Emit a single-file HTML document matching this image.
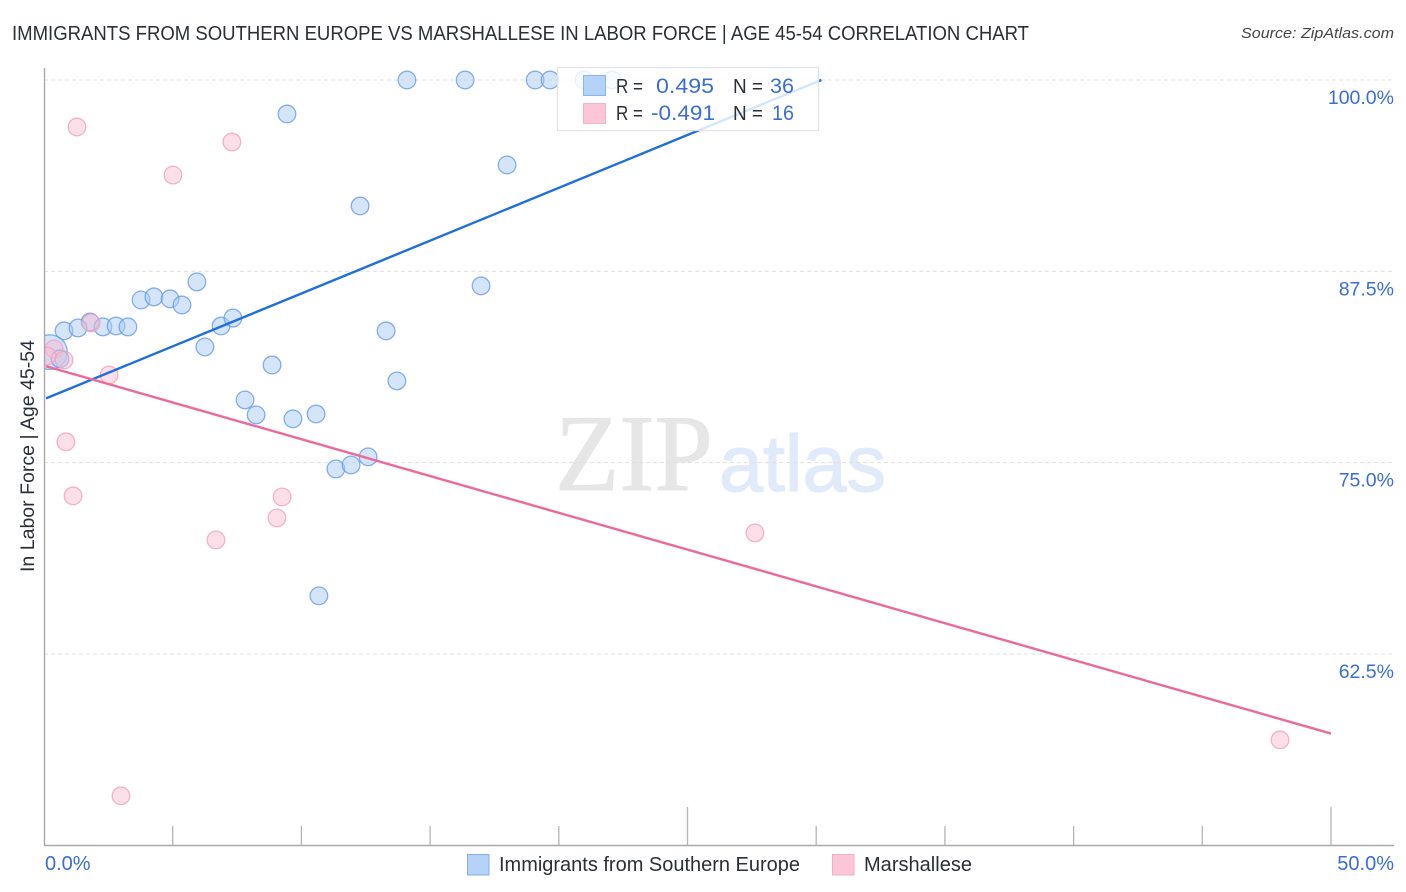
<!DOCTYPE html>
<html lang="en">
<head>
<meta charset="utf-8">
<title>Immigrants from Southern Europe vs Marshallese correlation chart</title>
<style>
html,body{margin:0;padding:0;background:#fff;}
body{width:1406px;height:892px;overflow:hidden;}
svg{display:block;font-family:"Liberation Sans",Arial,sans-serif;}
</style>
</head>
<body>
<svg id="chart" xmlns="http://www.w3.org/2000/svg" width="1406" height="892" viewBox="0 0 1406 892">
  <defs>
    <clipPath id="plot-clip"><rect x="45" y="60" width="1349" height="785"></rect></clipPath>
  </defs>
  <text x="12" y="40" font-size="20" fill="#2b2f36" textLength="1017" lengthAdjust="spacingAndGlyphs">IMMIGRANTS FROM SOUTHERN EUROPE VS MARSHALLESE IN LABOR FORCE | AGE 45-54 CORRELATION CHART</text>
  <text x="1394" y="38" font-size="15" font-style="italic" fill="#444" text-anchor="end" textLength="153" lengthAdjust="spacingAndGlyphs">Source: ZipAtlas.com</text>
  <g>
    <text x="555" y="490" font-family="'Liberation Serif',serif" font-size="109" fill="#e6e6e6" stroke="#e6e6e6" stroke-width="1" textLength="158" lengthAdjust="spacingAndGlyphs">ZIP</text>
    <text x="719" y="491" font-size="80" fill="#e0eafa" stroke="#e0eafa" stroke-width="1.2" textLength="167" lengthAdjust="spacingAndGlyphs">atlas</text>
  </g>
  <g id="grid"></g>
  <g id="points" clip-path="url(#plot-clip)"></g>
  <g id="trends"></g>
  <g id="axes"></g>
  <g>
    <rect x="557.5" y="67.5" width="261" height="63" fill="#fff" fill-opacity="0.82" stroke="#dfe2e6" stroke-width="1.2"></rect>
    <rect x="583.5" y="75.5" width="22" height="20" fill="#b5d2f8" stroke="#8ab6ee"></rect>
    <rect x="583.5" y="103.5" width="22" height="20" fill="#fcc6d8" stroke="#f5b3ca"></rect>
    <text x="616" y="93" font-size="20" fill="#2b2f36" textLength="27" lengthAdjust="spacingAndGlyphs">R =</text>
    <text x="656" y="93" font-size="21" fill="#3a6fd0" textLength="58" lengthAdjust="spacingAndGlyphs">0.495</text>
    <text x="733" y="93" font-size="20" fill="#2b2f36" textLength="30" lengthAdjust="spacingAndGlyphs">N =</text>
    <text x="770" y="93" font-size="21" fill="#3a6fd0" textLength="24" lengthAdjust="spacingAndGlyphs">36</text>
    <text x="616" y="120" font-size="20" fill="#2b2f36" textLength="27" lengthAdjust="spacingAndGlyphs">R =</text>
    <text x="651" y="120" font-size="21" fill="#3a6fd0" textLength="64" lengthAdjust="spacingAndGlyphs">-0.491</text>
    <text x="733" y="120" font-size="20" fill="#2b2f36" textLength="30" lengthAdjust="spacingAndGlyphs">N =</text>
    <text x="772" y="120" font-size="21" fill="#3a6fd0" textLength="22" lengthAdjust="spacingAndGlyphs">16</text>
  </g>
  <g>
    <rect x="467.5" y="854.5" width="21.5" height="20.5" fill="#b5d2f8" stroke="#7fb0ec"></rect>
    <text x="499" y="871" font-size="20" fill="#2b2f36" textLength="301" lengthAdjust="spacingAndGlyphs">Immigrants from Southern Europe</text>
    <rect x="832.5" y="854.5" width="21.5" height="20.5" fill="#fcc6d8" stroke="#f3aec6"></rect>
    <text x="864" y="871" font-size="20" fill="#2b2f36" textLength="108" lengthAdjust="spacingAndGlyphs">Marshallese</text>
  </g>
  <text transform="translate(34,572) rotate(-90)" font-size="19.5" fill="#2b2f36" textLength="232" lengthAdjust="spacingAndGlyphs">In Labor Force | Age 45-54</text>
</svg>
<script>
const yTickValues = [100, 87.5, 75, 62.5];
const yTickLabels = ["100.0%", "87.5%", "75.0%", "62.5%"];
const xTickValues = [5, 10, 15, 20, 25, 30, 35, 40, 45, 50];
const xMajorTicks = [25, 50];
const xEndValues = [0, 50];
const xEndLabels = ["0.0%", "50.0%"];

const blueX = [14.10, 16.36, 19.08, 19.66, 20.98, 22.07, 9.44, 17.99, 12.28, 5.94, 16.98, 3.77, 4.27, 4.90, 5.36, 1.79, 0.78, 1.32, 2.29, 2.80, 3.26, 6.88, 7.34, 6.25, 13.29, 8.86, 13.71, 7.81, 8.24, 9.67, 10.57, 11.34, 11.93, 12.59, 10.68, 0.23, 0.62];
const blueY = [100, 100, 100, 100, 100, 100, 97.78, 94.45, 91.77, 86.81, 86.55, 85.63, 85.83, 85.70, 85.30, 84.19, 83.61, 83.80, 83.87, 83.93, 83.87, 83.93, 84.45, 82.56, 83.61, 81.38, 80.34, 79.10, 78.12, 77.86, 78.18, 74.59, 74.85, 75.38, 66.30, 82.22, 81.78];
const blueWeight = [1, 1, 1, 1, 1, 1, 1, 1, 1, 1, 1, 1, 1, 1, 1, 1, 1, 1, 1, 1, 1, 1, 1, 1, 1, 1, 1, 1, 1, 1, 1, 1, 1, 1, 1, 3.8, 1];

const pinkX = [1.28, 7.30, 5.01, 1.83, 0.39, 0.78, 0.12, 2.53, 0.85, 1.13, 9.25, 9.05, 6.68, 27.62, 48.02, 2.99];
const pinkY = [96.93, 95.95, 93.79, 84.13, 82.43, 81.71, 81.97, 80.73, 76.36, 72.83, 72.76, 71.39, 69.95, 70.41, 56.89, 53.23];

const blueTrendX = [0.08, 30.2];
const blueTrendY = [79.2, 100];
const pinkTrendX = [0.08, 50];
const pinkTrendY = [81.3, 57.3];

const NS = "http://www.w3.org/2000/svg";
const xScale = v => 44 + v * 25.74;
const yScale = v => 80 + (100 - v) * 15.306;
const radius = w => 9 * Math.sqrt(w);

function make(tag, parent, attrs) {
  const el = document.createElementNS(NS, tag);
  for (const k in attrs) el.setAttribute(k, attrs[k]);
  parent.appendChild(el);
  return el;
}

const grid = document.getElementById("grid");
const axes = document.getElementById("axes");
const points = document.getElementById("points");
const trends = document.getElementById("trends");

yTickValues.forEach((v, i) => {
  const line = make("line", grid, {x1: 44, x2: 1394, y1: yScale(v), y2: yScale(v), stroke: "#e0e0e0", "stroke-width": 1, "stroke-dasharray": "4 3"});
  
  
  const label = make("text", axes, {x: 1394, y: yScale(v) + 24, "text-anchor": "end", "font-size": 19.5, fill: "#3a6fd0"});
  label.textContent = yTickLabels[i];
  
  
});

const yAxis = make("line", axes, {x1: 44.5, x2: 44.5, y1: 68, y2: 845.5, stroke: "#a9a9a9", "stroke-width": 1.4});


const xAxis = make("line", axes, {x1: 44, x2: 1394, y1: 845.5, y2: 845.5, stroke: "#a9a9a9", "stroke-width": 1.4});



xTickValues.forEach(v => {
  const top = xMajorTicks.includes(v) ? 807 : 826;
  const tick = make("line", axes, {x1: xScale(v), x2: xScale(v), y1: top, y2: 845, stroke: "#b5b5b5", "stroke-width": 1.3});
  
  
});

xEndValues.forEach((v, i) => {
  const atStart = i === 0;
  const label = make("text", axes, {x: atStart ? xScale(v) + 1 : 1394, y: 870, "text-anchor": atStart ? "start" : "end", "font-size": 20, fill: "#3a6fd0"});
  label.textContent = xEndLabels[i];
  
  
});

blueX.forEach((v, i) => {
  const c = make("circle", points, {cx: xScale(v), cy: yScale(blueY[i]), r: radius(blueWeight[i]) - 0.2, fill: "#a9cbf5", "fill-opacity": 0.5, stroke: "#5f97de", "stroke-opacity": 0.75, "stroke-width": 1.3});
  
  
});

pinkX.forEach((v, i) => {
  const c = make("circle", points, {cx: xScale(v), cy: yScale(pinkY[i]), r: 8.8, fill: "#f9bdd0", "fill-opacity": 0.48, stroke: "#f0a3bc", "stroke-opacity": 0.8, "stroke-width": 1.3});
  
  
});

const blueLine = make("line", trends, {x1: xScale(blueTrendX[0]), y1: yScale(blueTrendY[0]), x2: xScale(blueTrendX[1]), y2: yScale(blueTrendY[1]), stroke: "#1f6fdc", "stroke-width": 2.4});


const pinkLine = make("line", trends, {x1: xScale(pinkTrendX[0]), y1: yScale(pinkTrendY[0]), x2: xScale(pinkTrendX[1]), y2: yScale(pinkTrendY[1]), stroke: "#ea6a9c", "stroke-width": 2.4});


</script>
</body>
</html>
